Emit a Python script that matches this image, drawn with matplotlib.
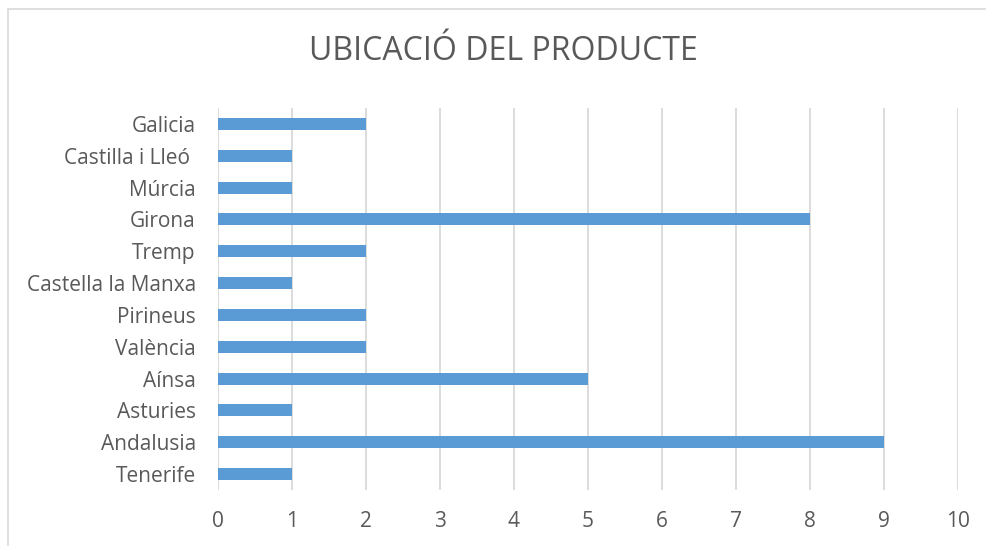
import matplotlib.pyplot as plt
from matplotlib.patches import Rectangle

# Dades
regions = ["Tenerife", "Andalusia", "Asturies", "Aínsa", "València", "Pirineus",
           "Castella la Manxa", "Tremp", "Girona", "Múrcia", "Castilla i Lleó ", "Galicia"]
valors = [1, 9, 1, 5, 2, 2, 1, 2, 8, 1, 1, 2]

plt.rcParams['font.family'] = ['Open Sans', 'DejaVu Sans']
gris = '#595959'

fig = plt.figure(figsize=(9.87, 5.46), dpi=100)
ax = fig.add_axes([218/987, 1 - 490/546, 740/987, 382/546])

# marc del gràfic
fig.patches.append(Rectangle((8/987, -0.1), 1.2, 1 - 9/546 + 0.1, transform=fig.transFigure,
                             fill=False, edgecolor='#D9D9D9', linewidth=1.2))

y = range(len(regions))
ax.barh(y, valors, height=0.38, color='#5B9BD5', zorder=3)

ax.set_xlim(0, 10)
ax.set_ylim(-0.5, len(regions) - 0.5)
ax.set_xticks(range(0, 11))
ax.set_yticks(list(y))
ax.set_yticklabels(regions)
ax.grid(axis='x', color='#D9D9D9', linewidth=1.3, zorder=0)
for s in ax.spines.values():
    s.set_visible(False)
ax.tick_params(axis='both', length=0, labelsize=15, labelcolor=gris)
ax.tick_params(axis='x', pad=15)
ax.tick_params(axis='y', pad=16)

fig.text(503/987, 1 - 52/546, 'UBICACIÓ DEL PRODUCTE', ha='center', va='center',
         fontsize=23, color=gris)

fig.savefig('out.png', dpi=100)
